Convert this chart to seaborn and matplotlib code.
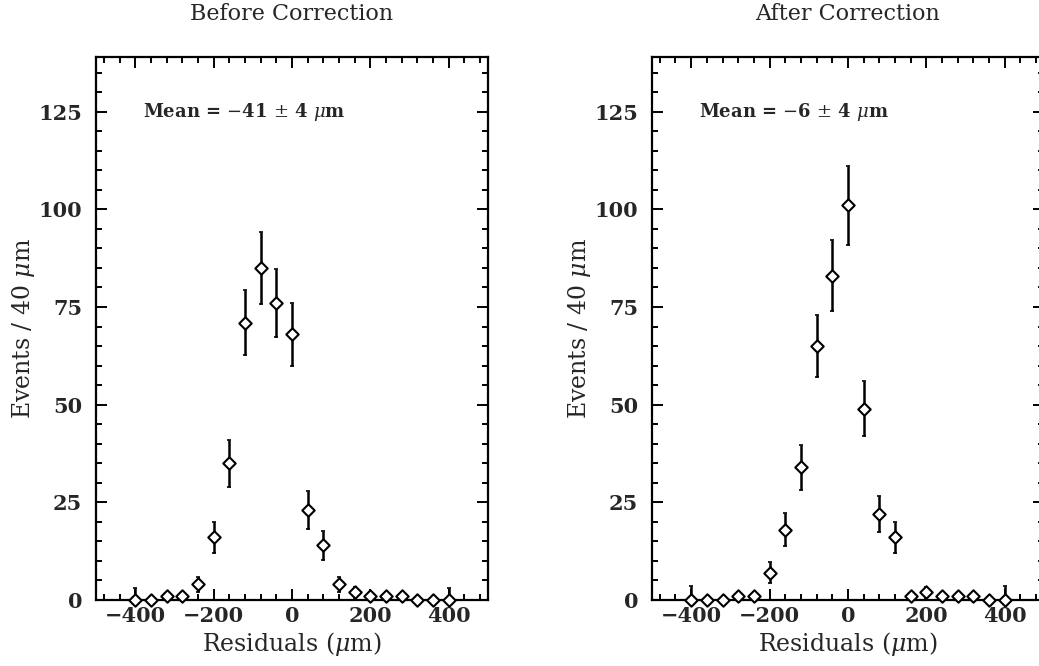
import numpy as np
import pandas as pd
import matplotlib
matplotlib.use("Agg")
import matplotlib.pyplot as plt
from matplotlib.ticker import MultipleLocator
import seaborn as sns

# Residual bin centres (40 um bins)
residuals = [-400, -360, -320, -280, -240, -200, -160, -120, -80, -40, 0,
             40, 80, 120, 160, 200, 240, 280, 320, 360, 400]

# Events per bin before the correction, with their errors
before_counts = [0, 0, 1, 1, 4, 16, 35, 71, 85, 76, 68,
                 23, 14, 4, 2, 1, 1, 1, 0, 0, 0]
before_errors = [3, 0, 1, 1, 2, 4, 6, 8.4, 9.2, 8.7, 8.1,
                 4.8, 3.7, 2, 1.4, 1, 1, 1, 0, 0, 3]

# Events per bin after the correction, with their errors
after_counts = [0, 0, 0, 1, 1, 7, 18, 34, 65, 83, 101,
                49, 22, 16, 1, 2, 1, 1, 1, 0, 0]
after_errors = [3.5, 0, 0, 1, 1, 2.7, 4.3, 5.8, 8, 9.1, 10,
                7, 4.7, 4, 1, 1.4, 1, 1, 1, 0, 3.5]

panel_titles = ["Before Correction", "After Correction"]
mean_labels = [r"Mean = $-$41 $\pm$ 4 $\mu$m", r"Mean = $-$6 $\pm$ 4 $\mu$m"]

sns.set_theme(style="ticks")
plt.rcParams["font.family"] = ["DejaVu Serif"]
plt.rcParams["mathtext.fontset"] = "dejavuserif"
plt.rcParams["axes.unicode_minus"] = True

fig = plt.figure(figsize=(10.39, 6.66), dpi=100)
ax_left = fig.add_axes([0.0924, 0.0991, 0.3773, 0.8153])
ax_right = fig.add_axes([0.6275, 0.0991, 0.3773, 0.8153])

panels = [
    (ax_left, before_counts, before_errors),
    (ax_right, after_counts, after_errors),
]

for i, (ax, counts, errors) in enumerate(panels):
    df = pd.DataFrame({"residual": residuals, "events": counts, "err": errors})
    ax.errorbar(df["residual"], df["events"], yerr=df["err"], fmt="none",
                ecolor="black", elinewidth=1.8, capsize=1.5, capthick=1.2,
                zorder=2)
    sns.scatterplot(data=df, x="residual", y="events", ax=ax, marker="D",
                    s=40, facecolor="white", edgecolor="black", linewidth=1.5,
                    zorder=3, clip_on=False, legend=False)

    ax.set_xlim(-500, 500)
    ax.set_ylim(0, 139)
    ax.xaxis.set_major_locator(MultipleLocator(200))
    ax.xaxis.set_minor_locator(MultipleLocator(40))
    ax.yaxis.set_major_locator(MultipleLocator(25))
    ax.yaxis.set_minor_locator(MultipleLocator(5))
    ax.tick_params(which="both", direction="in", top=True, right=True,
                   width=1.4, color="black")
    ax.tick_params(which="major", length=8, labelsize=15)
    ax.tick_params(axis="x", which="major", pad=4)
    ax.tick_params(axis="y", which="major", pad=10)
    ax.tick_params(which="minor", length=4)
    for lab in ax.get_xticklabels() + ax.get_yticklabels():
        lab.set_fontweight("bold")
    for sp in ax.spines.values():
        sp.set_linewidth(1.6)
        sp.set_color("black")

    ax.set_xlabel(r"Residuals ($\mu$m)", fontsize=17, labelpad=3)
    ax.set_ylabel(r"Events / 40 $\mu$m", fontsize=17, labelpad=1)
    ax.set_title(panel_titles[i], fontsize=16, pad=27)
    ax.text(-380, 125, mean_labels[i], fontsize=13, fontweight="bold",
            va="center", ha="left")

fig.savefig("out.png", dpi=100, facecolor="white")
